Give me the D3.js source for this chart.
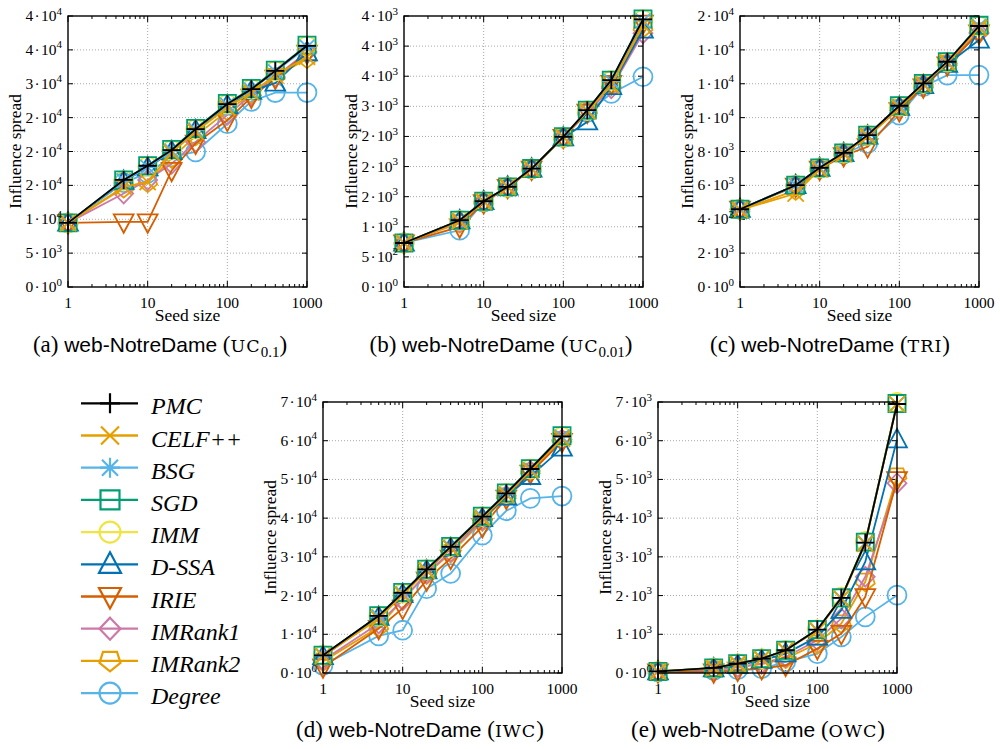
<!DOCTYPE html>
<html>
<head>
<meta charset="utf-8">
<script src="https://cdn.jsdelivr.net/npm/d3@7"></script>
<style>
  body { margin: 0; background: #fff; }
  svg { display: block; }
</style>
</head>
<body>
<div id="chart"></div>
<script>
// seed sizes (x values), same for every panel
var seeds = [1, 5, 10, 20, 40, 100, 200, 400, 1000];

var methods = ["PMC", "CELF++", "BSG", "SGD", "IMM", "D-SSA", "IRIE", "IMRank1", "IMRank2", "Degree"];
var colors  = ["#000000", "#E69F00", "#56B4E9", "#009E73", "#F0E442", "#0072B2", "#D55E00", "#CC79A7", "#E69F00", "#56B4E9"];
var shapes  = ["plus", "cross", "star", "square", "circle", "up", "down", "diamond", "pentagon", "circle"];

// influence spread, one row per method (same order as methods)
var spreadUc01 = [
  [9460, 15800, 17900, 20200, 23300, 27000, 29200, 31900, 35600],
  [9460, 14800, 15500, 19800, 22900, 26500, 28700, 31200, 34000],
  [9460, 15700, 17700, 20100, 23200, 26900, 29100, 31800, 35400],
  [9460, 15800, 17900, 20300, 23400, 27100, 29300, 32000, 35700],
  [9460, 15700, 17800, 20200, 23300, 27000, 29200, 31900, 35600],
  [9460, 15600, 17600, 20000, 23100, 26800, 28900, 30100, 34600],
  [9460, 9600, 9600, 17200, 21200, 24600, 28000, 30800, 34500],
  [9460, 13800, 15800, 18200, 21400, 25400, 28300, 31000, 34700],
  [9460, 14600, 15400, 19000, 22300, 26000, 28500, 31000, 33700],
  [9460, 15400, 16800, 19200, 19950, 24100, 27400, 28700, 28700]
];
var spreadUc001 = [
  [731, 1108, 1424, 1663, 1967, 2494, 2937, 3436, 4445],
  [731, 1090, 1420, 1660, 1960, 2490, 2920, 3350, 4350],
  [731, 1100, 1424, 1663, 1967, 2494, 2930, 3420, 4420],
  [731, 1108, 1424, 1663, 1967, 2494, 2937, 3436, 4450],
  [731, 1105, 1420, 1660, 1965, 2490, 2930, 3430, 4440],
  [731, 1100, 1420, 1660, 1960, 2480, 2743, 3330, 4267],
  [731, 997, 1400, 1650, 1955, 2480, 2900, 3380, 4380],
  [731, 1080, 1415, 1655, 1960, 2485, 2900, 3300, 4212],
  [731, 1060, 1415, 1655, 1960, 2485, 2910, 3350, 4300],
  [731, 942, 1410, 1655, 1960, 2480, 2900, 3214, 3491]
];
var spreadTri = [
  [4591, 6010, 7034, 7921, 8966, 10700, 12020, 13300, 15409],
  [4550, 5517, 6950, 7850, 8900, 10600, 11950, 13250, 15300],
  [4591, 6000, 7030, 7920, 8960, 10690, 12010, 13290, 15400],
  [4591, 6010, 7034, 7921, 8966, 10700, 12020, 13300, 15450],
  [4591, 6000, 7030, 7910, 8950, 10680, 12000, 13280, 15400],
  [4591, 5990, 7010, 7890, 8920, 10620, 11900, 13150, 14581],
  [4591, 5950, 6950, 7750, 8276, 10400, 11800, 13100, 15000],
  [4591, 5950, 6980, 7850, 8900, 10600, 11950, 13200, 15000],
  [4550, 5700, 6950, 7850, 8850, 10550, 11900, 13200, 15100],
  [4591, 6000, 7000, 7850, 8473, 10148, 11823, 12512, 12512]
];
var spreadIwc = [
  [4574, 14760, 20700, 26760, 32600, 40400, 46400, 52700, 61100],
  [4400, 14000, 20200, 26400, 32300, 40000, 46000, 52300, 60500],
  [4500, 14600, 20500, 26600, 32500, 40300, 46300, 52600, 61000],
  [4600, 14800, 20800, 26800, 32700, 40500, 46500, 52800, 61300],
  [4550, 14700, 20600, 26700, 32600, 40400, 46400, 52700, 61100],
  [4300, 14400, 20300, 26400, 32200, 39900, 45500, 50800, 58100],
  [1550, 11500, 16700, 24000, 29600, 37800, 45100, 51600, 59800],
  [3300, 12800, 18800, 25700, 31300, 39500, 45800, 52200, 60300],
  [3000, 11800, 19000, 25500, 31000, 39200, 45600, 52000, 60200],
  [1985, 9580, 11050, 21800, 25700, 35600, 41900, 45100, 45700]
];
var spreadOwc = [
  [40, 130, 242, 371, 587, 1122, 1942, 3366, 6948],
  [40, 125, 235, 365, 580, 1100, 1920, 3340, 6950],
  [40, 128, 240, 370, 585, 1115, 1935, 3360, 6950],
  [40, 130, 242, 371, 587, 1122, 1942, 3380, 6960],
  [40, 130, 242, 371, 587, 1122, 1960, 3400, 6990],
  [35, 112, 200, 328, 500, 932, 1623, 2874, 6025],
  [26, 26, 69, 112, 200, 630, 1018, 1968, 4989],
  [30, 86, 155, 242, 414, 846, 1407, 2486, 4903],
  [30, 80, 150, 230, 371, 760, 1277, 2356, 5075],
  [26, 69, 86, 112, 285, 500, 932, 1450, 2011]
];

// y ticks and their printed labels [mantissa, exponent]
var ticksUc01 = [0, 5000, 10000, 15000, 20000, 25000, 30000, 35000, 40000];
var labelsUc01 = [["0","0"],["5","3"],["1","4"],["2","4"],["2","4"],["2","4"],["3","4"],["4","4"],["4","4"]];
var ticksUc001 = [0, 500, 1000, 1500, 2000, 2500, 3000, 3500, 4000, 4500];
var labelsUc001 = [["0","0"],["5","2"],["1","3"],["2","3"],["2","3"],["2","3"],["3","3"],["4","3"],["4","3"],["4","3"]];
var ticksTri = [0, 2000, 4000, 6000, 8000, 10000, 12000, 14000, 16000];
var labelsTri = [["0","0"],["2","3"],["4","3"],["6","3"],["8","3"],["1","4"],["1","4"],["1","4"],["2","4"]];
var ticksIwc = [0, 10000, 20000, 30000, 40000, 50000, 60000, 70000];
var labelsIwc = [["0","0"],["1","4"],["2","4"],["3","4"],["4","4"],["5","4"],["6","4"],["7","4"]];
var ticksOwc = [0, 1000, 2000, 3000, 4000, 5000, 6000, 7000];
var labelsOwc = [["0","0"],["1","3"],["2","3"],["3","3"],["4","3"],["5","3"],["6","3"],["7","3"]];

var xTicks = [1, 10, 100, 1000];
var xTickLabels = ["1", "10", "100", "1000"];

var panels = [
  { left: 68,  top: 16,  data: spreadUc01,  ticks: ticksUc01,  labels: labelsUc01,  letter: "a", model: "UC", sub: "0.1",  cx: 160, capY: 352 },
  { left: 404, top: 16,  data: spreadUc001, ticks: ticksUc001, labels: labelsUc001, letter: "b", model: "UC", sub: "0.01", cx: 501, capY: 352 },
  { left: 740, top: 16,  data: spreadTri,   ticks: ticksTri,   labels: labelsTri,   letter: "c", model: "TRI", sub: "",    cx: 830, capY: 352 },
  { left: 323, top: 402, data: spreadIwc,   ticks: ticksIwc,   labels: labelsIwc,   letter: "d", model: "IWC", sub: "",    cx: 420, capY: 737 },
  { left: 658, top: 402, data: spreadOwc,   ticks: ticksOwc,   labels: labelsOwc,   letter: "e", model: "OWC", sub: "",    cx: 758, capY: 737 }
];

var W = 239, H = 271;
var serif = "'Liberation Serif', 'Times New Roman', serif";
var sans = "'Liberation Sans', Arial, sans-serif";

var svg = d3.select("#chart").append("svg")
    .attr("width", 1000)
    .attr("height", 749);

// marker outlines, unit size
function markerPath(shape, s) {
  function poly(pts) {
    return "M" + pts.map(function(p) { return (p[0]*s) + "," + (p[1]*s); }).join("L") + "Z";
  }
  switch (shape) {
    case "plus":  return "M" + (-10*s) + ",0H" + (10*s) + "M0," + (-10*s) + "V" + (10*s);
    case "cross": return "M" + (-9*s) + "," + (-9*s) + "L" + (9*s) + "," + (9*s) + "M" + (-9*s) + "," + (9*s) + "L" + (9*s) + "," + (-9*s);
    case "star":  return markerPath("plus", s) + "M" + (-8*s) + "," + (-8*s) + "L" + (8*s) + "," + (8*s) + "M" + (-8*s) + "," + (8*s) + "L" + (8*s) + "," + (-8*s);
    case "square": return poly([[-9.5,-9.5],[9.5,-9.5],[9.5,9.5],[-9.5,9.5]]);
    case "circle":
      var r = 10.5*s;
      return "M" + (-r) + ",0A" + r + "," + r + " 0 1,0 " + r + ",0A" + r + "," + r + " 0 1,0 " + (-r) + ",0Z";
    case "up":   return poly([[0,-12],[11,8.5],[-11,8.5]]);
    case "down": return poly([[0,12],[11,-8.5],[-11,-8.5]]);
    case "diamond": return poly([[0,-11],[10.5,0],[0,11],[-10.5,0]]);
    case "pentagon": return poly([[-7,-9],[7,-9],[10.5,2],[0,10.5],[-10.5,2]]);
  }
}

panels.forEach(function(p) {
  var x = d3.scaleLog().domain([1, 1000]).range([0, W]);
  var y = d3.scaleLinear().domain([0, p.ticks[p.ticks.length - 1]]).range([H, 0]);

  var g = svg.append("g").attr("transform", "translate(" + p.left + "," + p.top + ")");

  // dotted grid
  g.selectAll(".hgrid").data(p.ticks.slice(1, -1)).enter().append("line")
      .attr("x1", 0).attr("x2", W)
      .attr("y1", function(d) { return y(d); }).attr("y2", function(d) { return y(d); })
      .attr("stroke", "#a8a8a8").attr("stroke-width", 1).attr("stroke-dasharray", "1,2");
  g.selectAll(".vgrid").data([10, 100]).enter().append("line")
      .attr("x1", function(d) { return x(d); }).attr("x2", function(d) { return x(d); })
      .attr("y1", 0).attr("y2", H)
      .attr("stroke", "#a8a8a8").attr("stroke-width", 1).attr("stroke-dasharray", "1,2");

  // tick marks (inside, mirrored)
  var minor = [];
  [1, 10, 100].forEach(function(dec) { for (var k = 2; k <= 9; k++) minor.push(dec * k); });
  var tk = g.append("g").attr("stroke", "#000").attr("stroke-width", 1);
  minor.forEach(function(v) {
    tk.append("line").attr("x1", x(v)).attr("x2", x(v)).attr("y1", H).attr("y2", H - 3);
    tk.append("line").attr("x1", x(v)).attr("x2", x(v)).attr("y1", 0).attr("y2", 3);
  });
  xTicks.forEach(function(v) {
    tk.append("line").attr("x1", x(v)).attr("x2", x(v)).attr("y1", H).attr("y2", H - 6);
    tk.append("line").attr("x1", x(v)).attr("x2", x(v)).attr("y1", 0).attr("y2", 6);
  });
  p.ticks.forEach(function(v) {
    tk.append("line").attr("x1", 0).attr("x2", 5).attr("y1", y(v)).attr("y2", y(v));
    tk.append("line").attr("x1", W - 5).attr("x2", W).attr("y1", y(v)).attr("y2", y(v));
  });

  // series, drawn last-to-first so PMC ends up on top
  var line = d3.line()
      .x(function(d, i) { return x(seeds[i]); })
      .y(function(d) { return y(d); });

  for (var m = methods.length - 1; m >= 0; m--) {
    g.append("path")
        .datum(p.data[m])
        .attr("d", line)
        .attr("fill", "none")
        .attr("stroke", colors[m])
        .attr("stroke-width", 1.8);
    g.selectAll(".mk" + m).data(p.data[m]).enter().append("path")
        .attr("transform", function(d, i) { return "translate(" + x(seeds[i]) + "," + y(d) + ")"; })
        .attr("d", markerPath(shapes[m], 0.9))
        .attr("fill", "none")
        .attr("stroke", colors[m])
        .attr("stroke-width", 1.8);
  }

  // frame
  g.append("rect").attr("width", W).attr("height", H)
      .attr("fill", "none").attr("stroke", "#000").attr("stroke-width", 1.4);

  // y tick labels  m·10^e
  g.selectAll(".ylab").data(p.ticks).enter().append("text")
      .attr("x", -6)
      .attr("y", function(d) { return y(d) + 5; })
      .attr("text-anchor", "end")
      .attr("font-family", serif)
      .attr("font-size", 15.5)
      .each(function(d, i) {
        var t = d3.select(this);
        t.append("tspan").text(p.labels[i][0] + "\u200A\u00B7\u200A10");
        t.append("tspan").attr("dy", -6.5).attr("font-size", 11).text(p.labels[i][1]);
      });

  // x tick labels
  g.selectAll(".xlab").data(xTicks).enter().append("text")
      .attr("x", function(d) { return x(d); })
      .attr("y", H + 21)
      .attr("text-anchor", "middle")
      .attr("font-family", serif)
      .attr("font-size", 15.5)
      .text(function(d, i) { return xTickLabels[i]; });

  g.append("text")
      .attr("x", W / 2).attr("y", H + 34)
      .attr("text-anchor", "middle")
      .attr("font-family", serif).attr("font-size", 17.5)
      .text("Seed size");

  g.append("text")
      .attr("transform", "translate(-47," + (H / 2) + ") rotate(-90)")
      .attr("text-anchor", "middle")
      .attr("font-family", serif).attr("font-size", 17.3)
      .text("Influence spread");

  // caption: (a) web-NotreDame (UC0.1), one text so the pieces flow together
  var cap = svg.append("text")
      .attr("x", p.cx).attr("y", p.capY)
      .attr("text-anchor", "middle")
      .attr("font-family", serif).attr("font-size", 23);
  cap.append("tspan").text("(" + p.letter + ") ");
  cap.append("tspan").attr("font-family", sans).attr("font-size", 21).text("web-NotreDame");
  cap.append("tspan").text(" (");
  cap.append("tspan").attr("font-family", "'DejaVu Serif', serif").attr("font-size", 17.5)
      .attr("letter-spacing", 1).text(p.model);
  if (p.sub) {
    cap.append("tspan").attr("font-size", 15).attr("dy", 5).text(p.sub);
    cap.append("tspan").attr("dy", -5).text(")");
  } else {
    cap.append("tspan").text(")");
  }
});

// legend
var legend = svg.append("g");
methods.forEach(function(name, i) {
  var ly = 403.3 + i * 32.2;
  legend.append("line")
      .attr("x1", 81).attr("x2", 138).attr("y1", ly).attr("y2", ly)
      .attr("stroke", colors[i]).attr("stroke-width", 2.3);
  legend.append("path")
      .attr("transform", "translate(110," + ly + ")")
      .attr("d", markerPath(shapes[i], 1))
      .attr("fill", "none")
      .attr("stroke", colors[i]).attr("stroke-width", 2.2);
  legend.append("text")
      .attr("x", 151).attr("y", ly + 11)
      .attr("font-family", serif).attr("font-style", "italic").attr("font-size", 24)
      .text(name);
});
</script>
</body>
</html>
